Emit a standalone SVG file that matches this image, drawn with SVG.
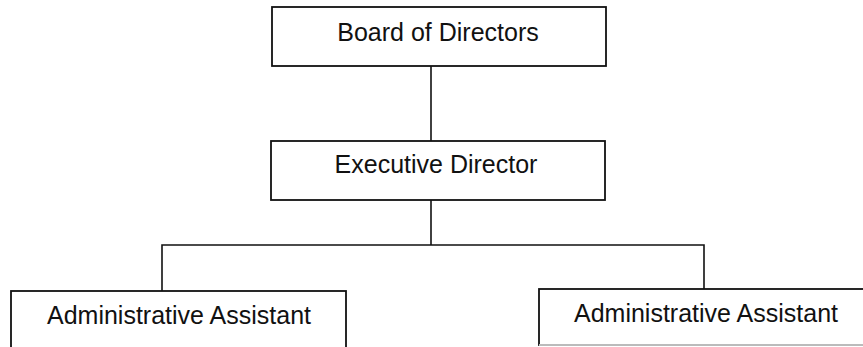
<svg xmlns="http://www.w3.org/2000/svg" width="863" height="347" viewBox="0 0 863 347">
<style>
.box{fill:#fff;stroke:#111;stroke-width:1.8}
.lbl{font-family:"Liberation Sans",Arial,sans-serif;font-size:25px;fill:#111;text-anchor:middle}
.conn{stroke:#111;stroke-width:1.6;fill:none}
</style>
<rect width="863" height="347" fill="#fff"/>
<g id="connectors">
<path class="conn" d="M431,66 V141"/>
<path class="conn" d="M431,200 V245"/>
<path class="conn" d="M162,291 V245 H704 V289"/>
</g>
<g id="board">
<rect class="box" x="272" y="7" width="334" height="59"/>
<text class="lbl" x="438" y="41">Board of Directors</text>
</g>
<g id="exec">
<rect class="box" x="271" y="141" width="334" height="59"/>
<text class="lbl" x="436" y="173">Executive Director</text>
</g>
<g id="assistant1">
<rect class="box" x="11" y="291" width="335" height="70"/>
<text class="lbl" x="179" y="324">Administrative Assistant</text>
</g>
<g id="assistant2">
<rect class="box" x="539" y="289" width="340" height="56"/>
<line x1="539" y1="345" x2="863" y2="345" stroke="#bbb" stroke-width="2"/>
<text class="lbl" x="706" y="322">Administrative Assistant</text>
</g>
</svg>
